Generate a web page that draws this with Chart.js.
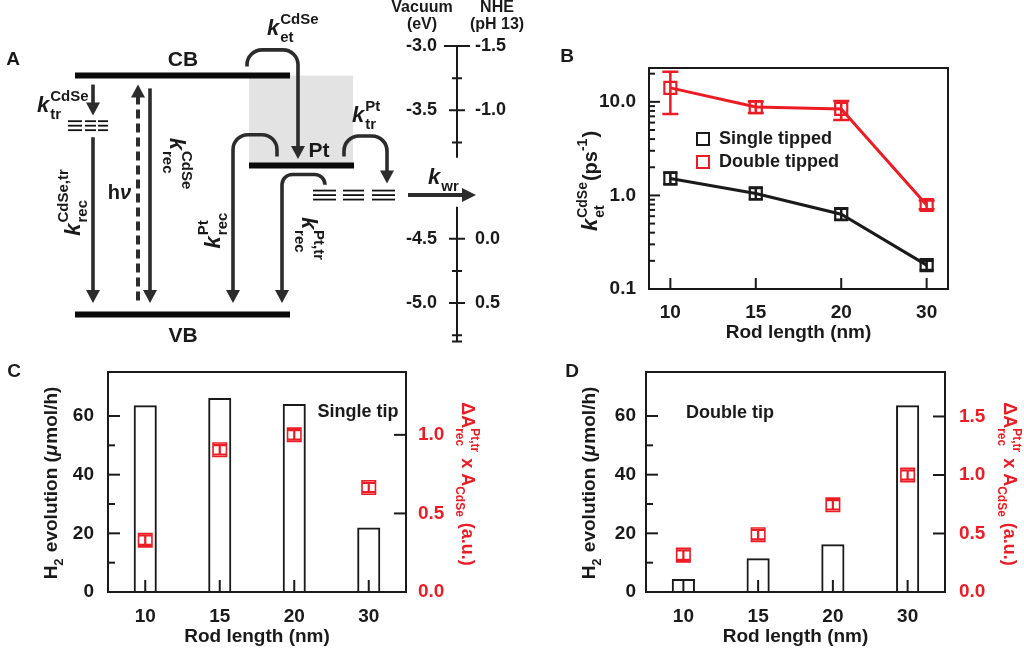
<!DOCTYPE html>
<html>
<head>
<meta charset="utf-8">
<script src="https://cdn.jsdelivr.net/npm/chart.js@4.4.1/dist/chart.umd.min.js"></script>
<style>
  body { margin: 0; background: #fff; width: 1024px; height: 648px; position: relative; overflow: hidden; }
  canvas { position: absolute; }
</style>
</head>
<body>
<canvas id="chartA" width="530" height="348" style="left:0;top:0"></canvas>
<canvas id="chartB" width="520" height="310" style="left:480px;top:40px"></canvas>
<canvas id="chartC" width="512" height="308" style="left:0;top:340px"></canvas>
<canvas id="chartD" width="512" height="308" style="left:512px;top:340px"></canvas>
<script>
const FONT = '"Liberation Sans", Arial, sans-serif';
const INK = '#1a1a1a';
const RED = '#ec1c24';
const TICK = 19;

// panel A: energy levels (eV vs vacuum)
const levelCB = -3.23;
const levelVB = -5.09;
const levelPt = -3.93;
const trapCdSe = -3.62;
const trapPt = -4.16;
const vacTicks = [-3.0, -3.5, -4.5, -5.0];
const vacMinor = [-3.25, -3.75, -4.75, -5.25];
const nheLabels = ['-1.5', '-1.0', '0.0', '0.5'];

// panel B: k_et vs rod length
const rodLengths = ['10', '15', '20', '30'];
const ketSingle = [1.52, 1.05, 0.63, 0.18];
const ketSingleHi = [1.75, 1.2, 0.72, 0.2];
const ketSingleLo = [1.32, 0.91, 0.55, 0.16];
const ketDouble = [14.1, 8.8, 8.4, 0.79];
const ketDoubleHi = [21.0, 10.1, 10.2, 0.88];
const ketDoubleLo = [7.4, 7.6, 6.4, 0.71];

// panels C and D: H2 evolution and dA x A
const h2Single = [63.7, 66.1, 64.1, 22.0];
const dASingle = [0.33, 0.905, 1.0, 0.665];
const dASingleErr = [0.03, 0.03, 0.03, 0.03];
const h2Double = [4.4, 11.5, 16.3, 63.7];
const dADouble = [0.315, 0.49, 0.745, 1.0];
const dADoubleErr = [0.04, 0.04, 0.04, 0.04];

Chart.defaults.font.family = FONT;
Chart.defaults.font.weight = 'bold';
Chart.defaults.color = INK;

function richText(ctx, parts, cx, cy, size, rot, color, align) {
    const small = Math.round(size * 0.68);
    const f = (s, it) => (it ? 'italic ' : '') + 'bold ' + s + 'px ' + FONT;
    ctx.save();
    let total = 0;
    const widths = parts.map(p => {
        let w;
        if (p.t !== undefined) {
            ctx.font = f(p.size || size, p.it);
            w = ctx.measureText(p.t).width + (p.it ? 1 : 0);
        } else {
            ctx.font = f(small);
            w = Math.max(p.sup ? ctx.measureText(p.sup).width : 0, p.sub ? ctx.measureText(p.sub).width : 0) + 1;
        }
        total += w;
        return w;
    });
    ctx.translate(cx, cy);
    ctx.rotate(rot || 0);
    ctx.fillStyle = color || INK;
    ctx.textBaseline = 'alphabetic';
    ctx.textAlign = 'left';
    let x = align === 'left' ? 0 : -total / 2;
    const base = align === 'left' ? 0 : size * 0.35;
    parts.forEach((p, i) => {
        if (p.t !== undefined) {
            ctx.font = f(p.size || size, p.it);
            ctx.fillText(p.t, x, base);
        } else {
            ctx.font = f(small);
            if (p.sup) ctx.fillText(p.sup, x, base - size * 0.52);
            if (p.sub) ctx.fillText(p.sub, x, base + size * 0.34);
        }
        x += widths[i];
    });
    ctx.restore();
}

function plainText(ctx, text, x, y, size, color, align) {
    ctx.save();
    ctx.font = 'bold ' + size + 'px ' + FONT;
    ctx.fillStyle = color || INK;
    ctx.textAlign = align || 'center';
    ctx.textBaseline = 'middle';
    ctx.fillText(text, x, y);
    ctx.restore();
}

function frame(chart) {
    const a = chart.chartArea, ctx = chart.ctx;
    ctx.save();
    ctx.strokeStyle = INK;
    ctx.lineWidth = 2;
    ctx.strokeRect(a.left, a.top, a.right - a.left, a.bottom - a.top);
    ctx.restore();
}

// tick marks pointing into the plot
function inTicks(chart, id, side, len, minorLen, isMajor, keep) {
    const s = chart.scales[id], a = chart.chartArea, ctx = chart.ctx;
    ctx.save();
    ctx.strokeStyle = INK;
    ctx.lineWidth = 2;
    s.ticks.forEach((t, i) => {
        if (!keep(t.value)) return;
        const L = isMajor(t.value) ? len : minorLen;
        const p = s.getPixelForTick(i);
        ctx.beginPath();
        if (side === 'left') { ctx.moveTo(a.left, p); ctx.lineTo(a.left + L, p); }
        else if (side === 'right') { ctx.moveTo(a.right, p); ctx.lineTo(a.right - L, p); }
        else { ctx.moveTo(p, a.bottom); ctx.lineTo(p, a.bottom - L); }
        ctx.stroke();
    });
    ctx.restore();
}

function errBar(ctx, x, yHi, yLo, cap, color, lw) {
    ctx.save();
    ctx.strokeStyle = color;
    ctx.lineWidth = lw;
    ctx.beginPath();
    ctx.moveTo(x, yHi); ctx.lineTo(x, yLo);
    ctx.moveTo(x - cap / 2, yHi); ctx.lineTo(x + cap / 2, yHi);
    ctx.moveTo(x - cap / 2, yLo); ctx.lineTo(x + cap / 2, yLo);
    ctx.stroke();
    ctx.restore();
}

const near = (v, s) => Math.abs(v / s - Math.round(v / s)) < 1e-6;

// ---------------- Panel A ----------------
function arrowHead(ctx, x, y, dir) {
    // dir: 1 down, -1 up, 2 right
    ctx.beginPath();
    if (dir === 2) {
        ctx.moveTo(x, y); ctx.lineTo(x - 14, y - 7); ctx.lineTo(x - 14, y + 7);
    } else {
        ctx.moveTo(x, y); ctx.lineTo(x - 7, y - 13 * dir); ctx.lineTo(x + 7, y - 13 * dir);
    }
    ctx.closePath();
    ctx.fill();
}

const diagramPlugin = {
    id: 'diagram',
    beforeDatasetsDraw(chart) {
        const ctx = chart.ctx;
        const X = v => chart.scales.x.getPixelForValue(v);
        const Y = e => chart.scales.y.getPixelForValue(e);
        // shaded Pt region
        ctx.save();
        ctx.fillStyle = '#e3e3e3';
        ctx.fillRect(X(249), Y(levelCB), X(353) - X(249), Y(levelPt) - Y(levelCB));
        ctx.restore();
    },
    afterDatasetsDraw(chart) {
        const ctx = chart.ctx;
        const X = v => chart.scales.x.getPixelForValue(v);
        const Y = e => chart.scales.y.getPixelForValue(e);
        const ARW = '#2c2c2c';
        ctx.save();
        ctx.strokeStyle = ARW;
        ctx.fillStyle = ARW;
        ctx.lineWidth = 3.6;

        function straight(x, e0, e1, dashed) {
            const y0 = Y(e0), y1 = Y(e1);
            const dir = y1 > y0 ? 1 : -1;
            ctx.save();
            if (dashed) { ctx.setLineDash([9, 5]); ctx.lineWidth = 4; }
            ctx.beginPath();
            ctx.moveTo(X(x), y0);
            ctx.lineTo(X(x), y1 - 11 * dir);
            ctx.stroke();
            ctx.restore();
            arrowHead(ctx, X(x), y1, dir);
        }
        function curved(x0, e0, x1, eTop, eEnd) {
            const y0 = Y(e0), yT = Y(eTop), y1 = Y(eEnd);
            const r = Math.min(15, Math.abs(x1 - x0) / 2, (y0 - yT));
            ctx.beginPath();
            ctx.moveTo(X(x0), y0);
            ctx.arcTo(X(x0), yT, X(x1), yT, r);
            ctx.arcTo(X(x1), yT, X(x1), y1, r);
            ctx.lineTo(X(x1), y1 - 11);
            ctx.stroke();
            arrowHead(ctx, X(x1), y1, 1);
        }
        function traps(groups, e) {
            ctx.save();
            ctx.lineWidth = 1.8;
            ctx.strokeStyle = '#111';
            groups.forEach(g => {
                [-4.5, 0, 4.5].forEach(d => {
                    ctx.beginPath();
                    ctx.moveTo(X(g[0]), Y(e) + d);
                    ctx.lineTo(X(g[1]), Y(e) + d);
                    ctx.stroke();
                });
            });
            ctx.restore();
        }

        traps([[68, 82], [85, 96], [98, 108]], trapCdSe);
        traps([[313, 336], [343, 364], [372, 395]], trapPt);

        straight(93, levelCB - 0.07, trapCdSe + 0.08);
        straight(93, trapCdSe - 0.09, levelVB + 0.09);
        straight(150, levelCB - 0.1, levelVB + 0.09);
        straight(138, levelVB + 0.11, levelCB - 0.07, true);

        curved(247, levelCB + 0.07, 298, -3.03, levelPt + 0.05);
        curved(277, levelPt + 0.07, 233, -3.69, levelVB + 0.09);
        curved(344, levelPt + 0.07, 387, -3.70, trapPt + 0.09);
        curved(325, trapPt + 0.08, 282, -4.0, levelVB + 0.09);

        // k_wr arrow
        ctx.beginPath();
        ctx.lineWidth = 4;
        ctx.moveTo(X(408), Y(trapPt));
        ctx.lineTo(X(463), Y(trapPt));
        ctx.stroke();
        arrowHead(ctx, X(476), Y(trapPt), 2);
        ctx.restore();

        // energy axis
        ctx.save();
        ctx.strokeStyle = INK;
        ctx.lineWidth = 2;
        const ax = X(457);
        ctx.beginPath();
        ctx.moveTo(ax, Y(-3.0)); ctx.lineTo(ax, Y(-3.87));
        ctx.moveTo(ax, Y(-4.25)); ctx.lineTo(ax, Y(-5.3));
        vacTicks.forEach((e, i) => {
            const w = i === 0 ? 13 : 8;
            ctx.moveTo(ax - w, Y(e)); ctx.lineTo(ax + w, Y(e));
        });
        vacMinor.concat([-5.3]).forEach(e => {
            ctx.moveTo(ax - 5, Y(e)); ctx.lineTo(ax + 5, Y(e));
        });
        ctx.stroke();
        ctx.restore();
        vacTicks.forEach((e, i) => {
            plainText(ctx, e.toFixed(1), X(437), Y(e), 18, INK, 'right');
            plainText(ctx, nheLabels[i], X(475), Y(e), 18, INK, 'left');
        });
        plainText(ctx, 'Vacuum', X(422), 8, 16);
        plainText(ctx, '(eV)', X(422), 25, 16);
        plainText(ctx, 'NHE', X(497), 8, 16);
        plainText(ctx, '(pH 13)', X(497), 25, 16);

        // labels
        plainText(ctx, 'A', 13, 60, 19, INK);
        plainText(ctx, 'CB', X(183), Y(levelCB) - 15, 21);
        plainText(ctx, 'VB', X(183), Y(levelVB) + 22, 21);
        plainText(ctx, 'Pt', X(319), Y(levelPt) - 14, 21);
        richText(ctx, [{t: 'h'}, {t: 'ν', it: true}], X(120), 192, 20, 0, INK);
        richText(ctx, [{t: 'k', it: true}, {sup: 'CdSe', sub: 'tr'}], X(37), 112, 22, 0, INK, 'left');
        richText(ctx, [{t: 'k', it: true}, {sup: 'CdSe', sub: 'et'}], X(267), 35, 22, 0, INK, 'left');
        richText(ctx, [{t: 'k', it: true}, {sup: 'Pt', sub: 'tr'}], X(352), 122, 22, 0, INK, 'left');
        richText(ctx, [{t: 'k', it: true}, {sub: 'wr'}], X(428), 184, 22, 0, INK, 'left');
        richText(ctx, [{t: 'k', it: true}, {sup: 'CdSe,tr', sub: 'rec'}], X(72), 202, 22, -Math.PI / 2, INK);
        richText(ctx, [{t: 'k', it: true}, {sup: 'CdSe', sub: 'rec'}], X(178), 164, 22, Math.PI / 2, INK);
        richText(ctx, [{t: 'k', it: true}, {sup: 'Pt', sub: 'rec'}], X(212), 230, 22, -Math.PI / 2, INK);
        richText(ctx, [{t: 'k', it: true}, {sup: 'Pt,tr', sub: 'rec'}], X(310), 239, 22, Math.PI / 2, INK);
    }
};

const levelSet = (e, x0, x1) => ({
    data: [{x: x0, y: e}, {x: x1, y: e}],
    borderColor: '#0a0a0a', borderWidth: 6, pointRadius: 0, borderCapStyle: 'butt'
});

new Chart(document.getElementById('chartA'), {
    type: 'line',
    data: { datasets: [levelSet(levelCB, 75, 290), levelSet(levelVB, 75, 290), levelSet(levelPt, 249, 354)] },
    options: {
        responsive: false, animation: false,
        layout: { padding: 0 },
        plugins: { legend: { display: false }, tooltip: { enabled: false } },
        scales: {
            x: { type: 'linear', min: 0, max: 530, display: false },
            y: { type: 'linear', min: -5.35, max: -2.642, display: false }
        }
    },
    plugins: [diagramPlugin]
});

// ---------------- Panel B ----------------
const pointsOf = arr => arr.map((v, i) => ({x: i, y: v}));

new Chart(document.getElementById('chartB'), {
    type: 'line',
    data: {
        datasets: [
            { label: 'Single tipped', data: pointsOf(ketSingle), borderColor: INK, borderWidth: 3,
              pointStyle: 'rect', pointRadius: 8.5, pointBorderWidth: 2.2, pointBackgroundColor: 'rgba(0,0,0,0)', pointBorderColor: INK },
            { label: 'Double tipped', data: pointsOf(ketDouble), borderColor: RED, borderWidth: 3,
              pointStyle: 'rect', pointRadius: 8.5, pointBorderWidth: 2.2, pointBackgroundColor: 'rgba(0,0,0,0)', pointBorderColor: RED }
        ]
    },
    options: {
        responsive: false, animation: false,
        layout: { padding: { left: 109, right: 52, top: 28, bottom: 0 } },
        plugins: { legend: { display: false }, tooltip: { enabled: false } },
        scales: {
            x: {
                type: 'linear', min: -0.25, max: 3.25,
                afterBuildTicks: s => { s.ticks = rodLengths.map((_, i) => ({value: i})); },
                afterFit: s => { s.height = 61; },
                grid: { display: false, drawTicks: false }, border: { display: false },
                ticks: { callback: v => rodLengths[v], padding: 12, font: { size: TICK, weight: 'bold' }, color: INK },
                title: { display: true, text: 'Rod length (nm)', font: { size: TICK, weight: 'bold' }, color: INK, padding: { top: 0, bottom: 6 } }
            },
            y: {
                type: 'logarithmic', min: 0.1, max: 23,
                afterFit: s => { s.width = 60; },
                grid: { display: false, drawTicks: false }, border: { display: false },
                ticks: {
                    autoSkip: false, padding: 13, font: { size: TICK, weight: 'bold' }, color: INK,
                    callback: v => near(Math.log10(v), 1) ? Number(v).toFixed(1) : ''
                }
            }
        }
    },
    plugins: [{
        id: 'panelB',
        afterDatasetsDraw(chart) {
            const ctx = chart.ctx, xs = chart.scales.x, ys = chart.scales.y;
            rodLengths.forEach((_, i) => {
                errBar(ctx, xs.getPixelForValue(i), ys.getPixelForValue(ketSingleHi[i]), ys.getPixelForValue(ketSingleLo[i]), 14, INK, 2.5);
                errBar(ctx, xs.getPixelForValue(i), ys.getPixelForValue(ketDoubleHi[i]), ys.getPixelForValue(ketDoubleLo[i]), 16, RED, 2.5);
            });
            frame(chart);
            inTicks(chart, 'x', 'bottom', 11, 11, () => true, () => true);
            inTicks(chart, 'y', 'left', 11, 6,
                v => near(Math.log10(v), 1),
                v => {
                    const sig = v / Math.pow(10, Math.floor(Math.log10(v) + 1e-9));
                    return near(sig, 1) && v > 0.1;
                });
            // legend
            chart.data.datasets.forEach((d, i) => {
                const y = 99 + i * 23;
                ctx.save();
                ctx.strokeStyle = d.borderColor;
                ctx.lineWidth = 2;
                ctx.strokeRect(217, y - 6, 12, 12);
                ctx.restore();
                plainText(ctx, d.label, 239, y, 18, INK, 'left');
            });
            plainText(ctx, 'B', 87, 17, 19);
            richText(ctx, [{t: 'k', it: true, size: 22}, {sup: 'CdSe', sub: 'et'}, {t: '(ps'}, {sup: '-1'}, {t: ')'}],
                110, 141, 20, -Math.PI / 2, INK);
        }
    }]
});

// ---------------- Panels C and D ----------------
function barPanel(id, h2, dA, dAErr, y1Max, pads, leftPad, rightPad, letter, note) {
    new Chart(document.getElementById(id), {
        type: 'bar',
        data: {
            labels: rodLengths,
            datasets: [
                { type: 'bar', data: h2, yAxisID: 'y', backgroundColor: 'rgba(0,0,0,0)', borderColor: INK,
                  borderWidth: 2, barPercentage: 0.31, categoryPercentage: 1 },
                { type: 'line', data: dA, yAxisID: 'y1', showLine: false, pointStyle: 'rect', pointRadius: 9.5,
                  pointBorderWidth: 1.6, pointBackgroundColor: 'rgba(0,0,0,0)', pointBorderColor: RED, borderColor: RED }
            ]
        },
        options: {
            responsive: false, animation: false,
            layout: { padding: pads },
            plugins: { legend: { display: false }, tooltip: { enabled: false } },
            scales: {
                x: {
                    afterFit: s => { s.height = 56; },
                    grid: { display: false, drawTicks: false }, border: { display: false },
                    ticks: { padding: 13, font: { size: TICK, weight: 'bold' }, color: INK },
                    title: { display: true, text: 'Rod length (nm)', font: { size: TICK, weight: 'bold' }, color: INK, padding: { top: 0, bottom: 0 } }
                },
                y: {
                    min: 0, max: 75, position: 'left',
                    afterFit: s => { s.width = 60; },
                    grid: { display: false, drawTicks: false }, border: { display: false },
                    ticks: { stepSize: 10, autoSkip: false, padding: leftPad, font: { size: TICK, weight: 'bold' }, color: INK,
                             callback: v => near(v, 20) ? v : '' }
                },
                y1: {
                    min: 0, max: y1Max, position: 'right',
                    afterFit: s => { s.width = 60; },
                    grid: { display: false, drawTicks: false }, border: { display: false },
                    ticks: { stepSize: 0.5, autoSkip: false, padding: rightPad, font: { size: TICK, weight: 'bold' }, color: RED,
                             callback: v => near(v, 0.5) ? Number(v).toFixed(1) : '' }
                }
            }
        },
        plugins: [{
            id: id + 'Decor',
            afterDatasetsDraw(chart) {
                const ctx = chart.ctx, xs = chart.scales.x, ys = chart.scales.y1;
                dA.forEach((v, i) => {
                    errBar(ctx, xs.getPixelForTick(i), ys.getPixelForValue(v + dAErr[i]), ys.getPixelForValue(v - dAErr[i]), 13, RED, 2.2);
                });
                frame(chart);
                inTicks(chart, 'x', 'bottom', 12, 12, () => true, () => true);
                inTicks(chart, 'y', 'left', 12, 7, v => near(v, 20), v => near(v, 10) && v > 0 && v < 75);
                inTicks(chart, 'y1', 'right', 12, 12, () => true, v => near(v, 0.5) && v > 0);
                const a = chart.chartArea;
                plainText(ctx, letter, letter === 'C' ? 14 : 60, 32, 19);
                plainText(ctx, note.text, note.x, note.y, 18);
                richText(ctx, [{t: 'H'}, {sub: '2'}, {t: ' evolution ('}, {t: 'μ', it: true}, {t: 'mol/h)'}],
                    a.left - 58, (a.top + a.bottom) / 2 + 1, 19, -Math.PI / 2, INK);
                richText(ctx, [{t: 'ΔA'}, {sup: 'Pt,tr', sub: 'rec'}, {t: ' x A'}, {sub: 'CdSe'}, {t: ' (a.u.)'}],
                    a.right + (letter === 'C' ? 62 : 65), (a.top + a.bottom) / 2 + 2, 18, Math.PI / 2, RED);
            }
        }]
    });
}

barPanel('chartC', h2Single, dASingle, dASingleErr, 1.4,
    { left: 48, right: 46, top: 32, bottom: 0 }, 14, 12, 'C', { text: 'Single tip', x: 358, y: 72 });
barPanel('chartD', h2Double, dADouble, dADoubleErr, 1.88,
    { left: 74, right: 19, top: 32, bottom: 0 }, 10, 14, 'D', { text: 'Double tip', x: 218, y: 73 });
</script>
</body>
</html>
